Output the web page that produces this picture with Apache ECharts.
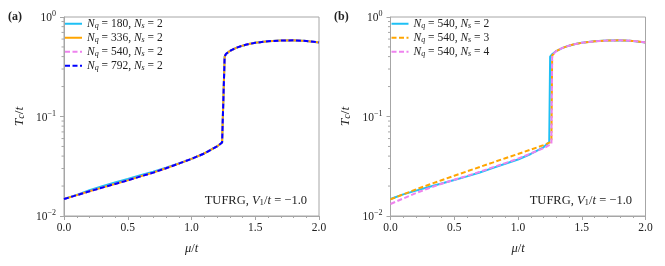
<!DOCTYPE html>
<html>
<head>
<meta charset="utf-8">
<script src="https://cdn.jsdelivr.net/npm/echarts@6/dist/echarts.min.js"></script>
<style>html,body{margin:0;padding:0;background:#fff;}#c{width:665px;height:266px;}</style>
</head>
<body>
<div id="c"></div>
<script>
// ---------- data ----------
const xTicks = [0.0, 0.5, 1.0, 1.5, 2.0];
const yMinorTicks = [0.02,0.03,0.04,0.05,0.06,0.07,0.08,0.09,0.2,0.3,0.4,0.5,0.6,0.7,0.8,0.9];

// common upper (superconducting dome) branch
const muUpper = [1.27, 1.3, 1.35, 1.4, 1.45, 1.5, 1.6, 1.7, 1.8, 1.9, 2.0];
const tcUpper = [0.425, 0.455, 0.49, 0.515, 0.535, 0.55, 0.57, 0.58, 0.583, 0.575, 0.555];

// panel (a)
const muA = [0.0, 0.1, 0.2, 0.3, 0.4, 0.5, 0.6, 0.7, 0.8, 0.9, 1.0, 1.1, 1.2, 1.24, 1.26];
const tcA180 = [0.0148, 0.0163, 0.0182, 0.0199, 0.0217, 0.0235, 0.0257, 0.0279, 0.0306, 0.0337, 0.0375, 0.0425, 0.0500, 0.0548, 0.40];
const tcA336 = [0.0148, 0.0162, 0.0177, 0.0193, 0.0210, 0.0228, 0.0250, 0.0273, 0.0302, 0.0336, 0.0375, 0.0425, 0.0500, 0.0548, 0.40];
const tcA540 = [0.0148, 0.0162, 0.0177, 0.0193, 0.0210, 0.0228, 0.0250, 0.0273, 0.0302, 0.0336, 0.0375, 0.0425, 0.0500, 0.0548, 0.40];
const tcA792 = [0.0148, 0.0162, 0.0177, 0.0193, 0.0210, 0.0228, 0.0250, 0.0273, 0.0302, 0.0336, 0.0375, 0.0425, 0.0500, 0.0548, 0.40];

// panel (b)
const muB2 = [0.0, 0.1, 0.2, 0.3, 0.4, 0.5, 0.6, 0.7, 0.8, 0.9, 1.0, 1.1, 1.2, 1.245, 1.252, 1.26];
const tcB2 = [0.0148, 0.0165, 0.0180, 0.0196, 0.0212, 0.0230, 0.0250, 0.0274, 0.0303, 0.0335, 0.0370, 0.0420, 0.0490, 0.0555, 0.40, 0.415];
const muB34 = [0.0, 0.1, 0.2, 0.3, 0.4, 0.5, 0.6, 0.7, 0.8, 0.9, 1.0, 1.1, 1.2, 1.262, 1.268];
const tcB3 = [0.0147, 0.0165, 0.0185, 0.0206, 0.0229, 0.0254, 0.0281, 0.0311, 0.0344, 0.0381, 0.0420, 0.0465, 0.0515, 0.0558, 0.41];
const tcB4 = [0.0132, 0.0150, 0.0170, 0.0190, 0.0211, 0.0231, 0.0253, 0.0278, 0.0308, 0.0340, 0.0377, 0.0425, 0.0480, 0.0530, 0.41];

const namesA = ['Nq180', 'Nq336', 'Nq540', 'Nq792'];
const labelsA = [['180','2'],['336','2'],['540','2'],['792','2']];
const namesB = ['Ns2', 'Ns3', 'Ns4'];
const labelsB = [['540','2'],['540','3'],['540','4']];

// ---------- build ----------
function pairs(mu, tc) {
  const out = mu.map((m, i) => [m, tc[i]]);
  muUpper.forEach((m, i) => { if (m > mu[mu.length - 1]) out.push([m, tcUpper[i]]); });
  return out;
}
const FONT = 'Liberation Serif';
const AX = '#a6a6a6';
const TXT = '#222';
const sup = (v) => {
  const e = Math.round(Math.log10(v));
  return '{b|10}{s|' + (e < 0 ? '\u2212' + (-e) : e) + '}';
};
const labelRich = {
  b: { fontFamily: FONT, fontSize: 11.5, color: TXT, verticalAlign: 'bottom', lineHeight: 14 },
  s: { fontFamily: FONT, fontSize: 8, color: TXT, verticalAlign: 'top', lineHeight: 14 }
};
function makeRich(fs) {
  return {
    i: { fontFamily: FONT, fontStyle: 'italic', fontWeight: 'normal', fontSize: fs, color: TXT, verticalAlign: 'bottom', lineHeight: fs + 1 },
    d: { fontFamily: FONT, fontStyle: 'italic', fontWeight: 'normal', fontSize: Math.round(fs * 0.72), color: TXT, verticalAlign: 'bottom', lineHeight: fs - 1 },
    n: { fontFamily: FONT, fontStyle: 'normal', fontWeight: 'normal', fontSize: Math.round(fs * 0.72), color: TXT, verticalAlign: 'bottom', lineHeight: fs - 1 },
    t: { fontFamily: FONT, fontStyle: 'normal', fontWeight: 'normal', fontSize: fs, color: TXT, verticalAlign: 'bottom', lineHeight: fs + 1 }
  };
}
const grids = [
  { left: 64, top: 17, width: 255, height: 199 },
  { left: 390.5, top: 17, width: 255, height: 199 }
];
grids.forEach(g => { g.show = true; g.borderColor = AX; g.borderWidth = 1; g.backgroundColor = 'transparent'; });

function xAxisFor(gi) {
  return {
    type: 'value', gridIndex: gi, min: xTicks[0], max: xTicks[xTicks.length - 1], interval: 0.5,
    axisLine: { show: true, lineStyle: { color: AX, width: 1 } },
    axisTick: { show: true, length: 4, lineStyle: { color: AX } },
    minorTick: { show: true, splitNumber: 5, length: 2, lineStyle: { color: AX } },
    splitLine: { show: false },
    axisLabel: { margin: 6, fontFamily: FONT, fontSize: 11.5, color: TXT, formatter: v => v.toFixed(1) },
    name: '{i|\u03bc}{t|/}{i|t}', nameLocation: 'middle', nameGap: 26,
    nameTextStyle: { rich: makeRich(12.5) }
  };
}
function yAxisFor(gi) {
  return {
    type: 'log', logBase: 10, gridIndex: gi, min: 0.01, max: 1, splitNumber: 2,
    axisLine: { show: true, lineStyle: { color: AX, width: 1 } },
    axisTick: { show: true, length: 4, lineStyle: { color: AX } },
    splitLine: { show: false },
    axisLabel: { margin: 8, formatter: sup, rich: labelRich },
    name: '{i|T}{d|c}{t|/}{i|t}', nameLocation: 'middle', nameGap: 38, nameRotate: 90,
    nameTextStyle: { rich: makeRich(13.5) }
  };
}
function legendLabel(n, s) {
  return '{i|N}{d|q}{t| = ' + n + ', }{i|N}{d|s}{t| = ' + s + '}';
}
function line(name, data, color, dashed, gi, z) {
  return {
    name: name, type: 'line', xAxisIndex: gi, yAxisIndex: gi, data: data,
    showSymbol: false, symbol: 'none', smooth: false, z: z, animation: false,
    lineStyle: { color: color, width: 2, type: dashed ? [5, 2.5] : 'solid' },
    itemStyle: { color: color }
  };
}
function minorTicks(gi) {
  return {
    type: 'custom', xAxisIndex: gi, yAxisIndex: gi, silent: true, clip: false, z: 1, animation: false,
    data: yMinorTicks.map(v => [xTicks[0], v]),
    renderItem: (params, api) => {
      const p = api.coord([api.value(0), api.value(1)]);
      return { type: 'line', shape: { x1: p[0] - 2.5, y1: p[1], x2: p[0], y2: p[1] }, style: { stroke: AX, lineWidth: 1 } };
    }
  };
}
const CYAN = '#1ec0f5', ORANGE = '#ffa500', VIOLET = '#ee82ee', BLUE = '#0000ff';

const series = [
  line(namesA[0], pairs(muA, tcA180), CYAN, false, 0, 2),
  line(namesA[1], pairs(muA, tcA336), ORANGE, false, 0, 3),
  line(namesA[2], pairs(muA, tcA540), VIOLET, true, 0, 4),
  line(namesA[3], pairs(muA, tcA792), BLUE, true, 0, 5),
  line(namesB[0], pairs(muB2, tcB2), CYAN, false, 1, 2),
  line(namesB[1], pairs(muB34, tcB3), ORANGE, true, 1, 3),
  line(namesB[2], pairs(muB34, tcB4), VIOLET, true, 1, 4),
  minorTicks(0), minorTicks(1)
];

function legendFor(names, labels, left) {
  const map = {};
  names.forEach((n, i) => map[n] = legendLabel(labels[i][0], labels[i][1]));
  return {
    data: names, orient: 'vertical', left: left, top: 18, padding: 0,
    itemWidth: 17, itemHeight: 8, itemGap: 2, selectedMode: false,
    itemStyle: { opacity: 0 },
    formatter: n => map[n],
    textStyle: { rich: makeRich(11.5) }
  };
}
const tufrg = '{t|TUFRG, }{i|V}{n|1}{t|/}{i|t}{t| = \u22121.0}';

const option = {
  backgroundColor: '#fff',
  animation: false,
  grid: grids,
  xAxis: [xAxisFor(0), xAxisFor(1)],
  yAxis: [yAxisFor(0), yAxisFor(1)],
  legend: [legendFor(namesA, labelsA, 64), legendFor(namesB, labelsB, 390.5)],
  title: [
    { text: '(a)', left: 8, top: 11, padding: 0, textStyle: { fontFamily: FONT, fontWeight: 'bold', fontSize: 12, color: TXT } },
    { text: '(b)', left: 334, top: 11, padding: 0, textStyle: { fontFamily: FONT, fontWeight: 'bold', fontSize: 12, color: TXT } },
    { text: tufrg, right: 358, top: 194, padding: 0, textStyle: { fontWeight: 'normal', rich: makeRich(12.5) } },
    { text: tufrg, right: 33, top: 194, padding: 0, textStyle: { fontWeight: 'normal', rich: makeRich(12.5) } }
  ],
  series: series
};
const chart = echarts.init(document.getElementById('c'), null, { renderer: 'canvas' });
chart.setOption(option);
</script>
</body>
</html>
